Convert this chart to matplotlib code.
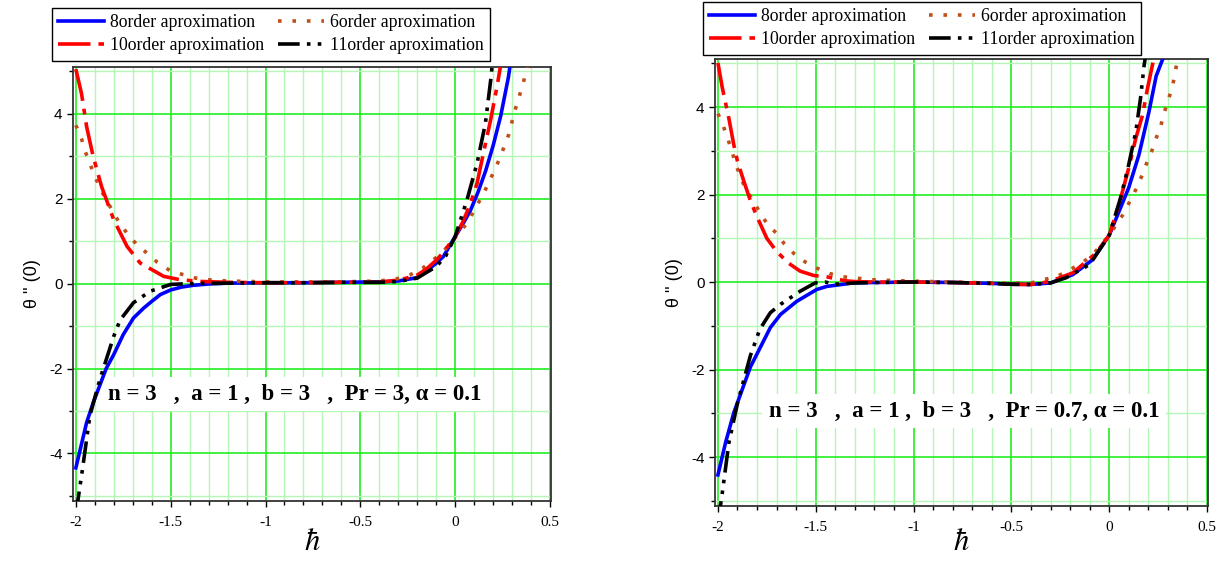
import numpy as np
import matplotlib.pyplot as plt
from matplotlib.ticker import MultipleLocator

# ---- left panel: Pr = 3 ----
h8_a = [-2.0, -1.943, -1.908, -1.84, -1.80, -1.75, -1.696, -1.643, -1.6, -1.555, -1.5, -1.44,
        -1.38, -1.3, -1.2, -1.0, -0.8, -0.6, -0.4, -0.3, -0.2, -0.15, -0.1, -0.062, 0.0,
        0.04, 0.08, 0.12, 0.16, 0.2, 0.24, 0.28, 0.29]
t8_a = [-4.34, -3.27, -2.8, -2.0, -1.67, -1.2, -0.81, -0.58, -0.42, -0.26, -0.15, -0.08,
        -0.04, -0.01, 0.01, 0.02, 0.02, 0.03, 0.04, 0.06, 0.14, 0.3, 0.48, 0.64, 1.11,
        1.4, 1.72, 2.15, 2.65, 3.25, 3.95, 4.85, 5.15]

h6_a = [-2.0, -1.97, -1.952, -1.926, -1.9, -1.85, -1.80, -1.767, -1.72, -1.675, -1.62, -1.57,
        -1.505, -1.435, -1.37, -1.3, -1.2, -1.0, -0.8, -0.6, -0.4, -0.3, -0.24, -0.17, -0.115,
        -0.062, 0.0, 0.062, 0.141, 0.171, 0.203, 0.23, 0.256, 0.283, 0.30, 0.318, 0.339,
        0.359, 0.375, 0.382]
t6_a = [3.73, 3.41, 3.125, 2.83, 2.52, 2.05, 1.66, 1.40, 1.13, 0.9, 0.70, 0.5,
        0.31, 0.21, 0.13, 0.09, 0.06, 0.04, 0.04, 0.04, 0.06, 0.12, 0.2, 0.37, 0.56,
        0.76, 1.08, 1.42, 2.05, 2.32, 2.63, 2.9, 3.2, 3.52, 3.82, 4.12, 4.43,
        4.72, 5.05, 5.15]

h10_a = [-2.0, -1.97, -1.943, -1.908, -1.864, -1.80, -1.73, -1.66, -1.60, -1.537, -1.45, -1.34,
         -1.2, -1.0, -0.8, -0.6, -0.4, -0.29, -0.2, -0.15, -0.1, -0.062, 0.0, 0.04, 0.08,
         0.115, 0.15, 0.186, 0.22, 0.24]
t10_a = [5.05, 4.47, 3.69, 2.98, 2.28, 1.5, 0.875, 0.48, 0.33, 0.17, 0.09, 0.05,
         0.03, 0.02, 0.02, 0.03, 0.03, 0.09, 0.2, 0.35, 0.55, 0.74, 1.11, 1.45, 1.88,
         2.36, 3.1, 3.84, 4.63, 5.15]

h11_a = [-2.0, -1.988, -1.965, -1.926, -1.873, -1.80, -1.767, -1.696, -1.608, -1.5, -1.4,
         -1.2, -1.0, -0.8, -0.6, -0.4, -0.3, -0.2, -0.1, -0.05, 0.0, 0.062, 0.115, 0.159,
         0.189, 0.195]
t11_a = [-5.4, -5.07, -4.37, -3.11, -2.25, -1.24, -0.86, -0.45, -0.18, -0.02, 0.0,
         0.01, 0.02, 0.02, 0.03, 0.03, 0.05, 0.13, 0.4, 0.65, 1.11, 1.97, 2.83, 3.77,
         4.86, 5.15]

# ---- right panel: Pr = 0.7 ----
h8_b = [-2.0, -1.961, -1.919, -1.834, -1.732, -1.68, -1.597, -1.495, -1.444, -1.376, -1.31,
        -1.2, -1.0, -0.8, -0.6, -0.5, -0.4, -0.3, -0.186, -0.085, 0.0, 0.059, 0.10, 0.152,
        0.203, 0.24, 0.278]
t8_b = [-4.41, -3.67, -2.99, -1.94, -1.04, -0.74, -0.44, -0.17, -0.10, -0.06, -0.02,
        -0.01, 0.0, -0.01, -0.03, -0.05, -0.055, -0.02, 0.17, 0.51, 1.07, 1.71, 2.16, 2.91,
        3.89, 4.71, 5.15]

h6_b = [-2.0, -1.973, -1.949, -1.927, -1.91, -1.87, -1.822, -1.786, -1.75, -1.70, -1.66, -1.61,
        -1.554, -1.495, -1.43, -1.36, -1.295, -1.2, -1.0, -0.8, -0.6, -0.5, -0.4, -0.263,
        -0.144, -0.085, 0.0, 0.076, 0.107, 0.139, 0.166, 0.19, 0.217, 0.24, 0.263, 0.28,
        0.30, 0.322, 0.335, 0.347, 0.352]
t6_b = [3.85, 3.57, 3.27, 2.97, 2.7, 2.25, 1.86, 1.6, 1.34, 1.11, 0.87, 0.645,
        0.46, 0.32, 0.195, 0.12, 0.09, 0.05, 0.02, 0.0, -0.02, -0.03, -0.02, 0.135,
        0.42, 0.62, 1.07, 1.58, 1.86, 2.14, 2.42, 2.7, 2.99, 3.29, 3.56, 3.85,
        4.15, 4.43, 4.75, 5.03, 5.15]

h10_b = [-2.0, -1.978, -1.944, -1.919, -1.90, -1.868, -1.834, -1.80, -1.75, -1.70, -1.64, -1.58,
         -1.51, -1.444, -1.35, -1.3, -1.2, -1.0, -0.8, -0.6, -0.5, -0.4, -0.356, -0.3,
         -0.186, -0.068, 0.0, 0.051, 0.10, 0.136, 0.17, 0.195, 0.225, 0.23]
t10_b = [5.01, 4.45, 3.74, 3.14, 2.76, 2.31, 1.86, 1.49, 1.0, 0.70, 0.435, 0.25,
         0.15, 0.12, 0.03, 0.01, 0.0, 0.0, -0.01, -0.03, -0.05, -0.055, -0.03, 0.02,
         0.21, 0.66, 1.07, 1.79, 2.61, 3.29, 3.81, 4.41, 5.05, 5.15]

h11_b = [-2.0, -1.978, -1.966, -1.944, -1.90, -1.834, -1.786, -1.732, -1.68, -1.58, -1.503,
         -1.45, -1.41, -1.3, -1.2, -1.0, -0.8, -0.6, -0.5, -0.4, -0.3, -0.22, -0.10, 0.0,
         0.059, 0.10, 0.136, 0.16, 0.178, 0.185]
t11_b = [-5.5, -4.83, -4.42, -3.67, -2.77, -1.68, -1.08, -0.70, -0.51, -0.21, -0.02,
         0.0, -0.05, -0.02, -0.01, 0.0, -0.01, -0.03, -0.05, -0.055, -0.02, 0.1, 0.4, 1.07,
         1.94, 2.69, 3.44, 4.2, 4.94, 5.15]

labels = ['8order aproximation', '6order aproximation',
          '10order aproximation', '11order aproximation']
notes = ['n = 3   ,  a = 1 ,  b = 3   ,  Pr = 3, \u03b1 = 0.1',
         'n = 3   ,  a = 1 ,  b = 3   ,  Pr = 0.7, \u03b1 = 0.1']

plt.rcParams['mathtext.fontset'] = 'stix'
plt.rcParams['axes.unicode_minus'] = False

fig = plt.figure(figsize=(12.22, 5.62), dpi=100)
ax1 = fig.add_axes([73 / 1222, 1 - 501 / 562, 478 / 1222, 434 / 562])
ax2 = fig.add_axes([715 / 1222, 1 - 506 / 562, 493 / 1222, 447 / 562])

panels = [
    (ax1, [(h8_a, t8_a), (h6_a, t6_a), (h10_a, t10_a), (h11_a, t11_a)], notes[0],
     (-1.83, -2.6), (52, 8), -2),
    (ax2, [(h8_b, t8_b), (h6_b, t6_b), (h10_b, t10_b), (h11_b, t11_b)], notes[1],
     (-1.74, -2.95), (703, 2), -5),
]

styles = [
    dict(color='#0000ff', linestyle='-', lw=2.6),
    dict(color='#c0501a', linestyle=(0, (1, 3)), lw=2.6, dash_capstyle='butt'),
    dict(color='#ff0000', linestyle=(0, (9, 2.2, 1.6, 2.2)), lw=2.6, dash_capstyle='butt'),
    dict(color='#000000', linestyle=(0, (6, 2, 1, 2, 1, 2)), lw=2.6, dash_capstyle='butt'),
]

for ax, series, note, npos, lpos, xpad in panels:
    ax.set_xlim(-2.015, 0.505)
    ax.set_ylim(-5.12, 5.1)
    ax.xaxis.set_major_locator(MultipleLocator(0.5))
    ax.xaxis.set_minor_locator(MultipleLocator(0.1))
    ax.yaxis.set_major_locator(MultipleLocator(2))
    ax.yaxis.set_minor_locator(MultipleLocator(1))
    ax.grid(which='minor', color='#b4f7b4', lw=1.0, zorder=0)
    ax.grid(which='major', color='#22ee22', lw=1.2, zorder=0)
    ax.set_axisbelow(True)

    lines = []
    for (h, t), st in zip(series, styles):
        ln, = ax.plot(h, t, zorder=3, **st)
        lines.append(ln)

    ax.text(npos[0], npos[1], note, fontsize=16.5, fontweight='bold',
            family='Liberation Serif', va='center', ha='left', zorder=2,
            bbox=dict(facecolor='white', edgecolor='none', pad=5))

    for s in ax.spines.values():
        s.set_linewidth(1.3)
        s.set_color('#333333')
    ax.tick_params(which='both', direction='out', length=4, width=1)
    ax.tick_params(which='minor', length=3)
    ax.tick_params(axis='x', pad=7)
    ax.xaxis.set_major_formatter(plt.FuncFormatter(lambda v, p: '%g' % v))
    ax.yaxis.set_major_formatter(plt.FuncFormatter(lambda v, p: '%g' % v))
    for lb in ax.get_xticklabels():
        lb.set_family('Liberation Serif')
        lb.set_fontsize(11)
    for lb in ax.get_yticklabels():
        lb.set_family('Liberation Sans')
        lb.set_fontsize(11)

    ax.set_ylabel("\u03b8 '' (0)", fontsize=13, family='Liberation Sans', labelpad=6)
    ax.set_xlabel(r'$\hbar$', fontsize=22, labelpad=xpad)

    order = [0, 2, 1, 3]
    leg = ax.legend([lines[i] for i in order], [labels[i] for i in order], ncol=2,
                    loc='upper left',
                    bbox_to_anchor=(lpos[0] / 1222, 1 - lpos[1] / 562),
                    bbox_transform=fig.transFigure, borderaxespad=0,
                    prop=dict(family='Liberation Serif', size=12.8),
                    handlelength=2.6, handletextpad=0.3, columnspacing=0.8,
                    labelspacing=0.35, borderpad=0.35, fancybox=False, framealpha=1)
    leg.get_frame().set_edgecolor('black')
    leg.get_frame().set_linewidth(1.0)

fig.savefig('out.png', dpi=100)
